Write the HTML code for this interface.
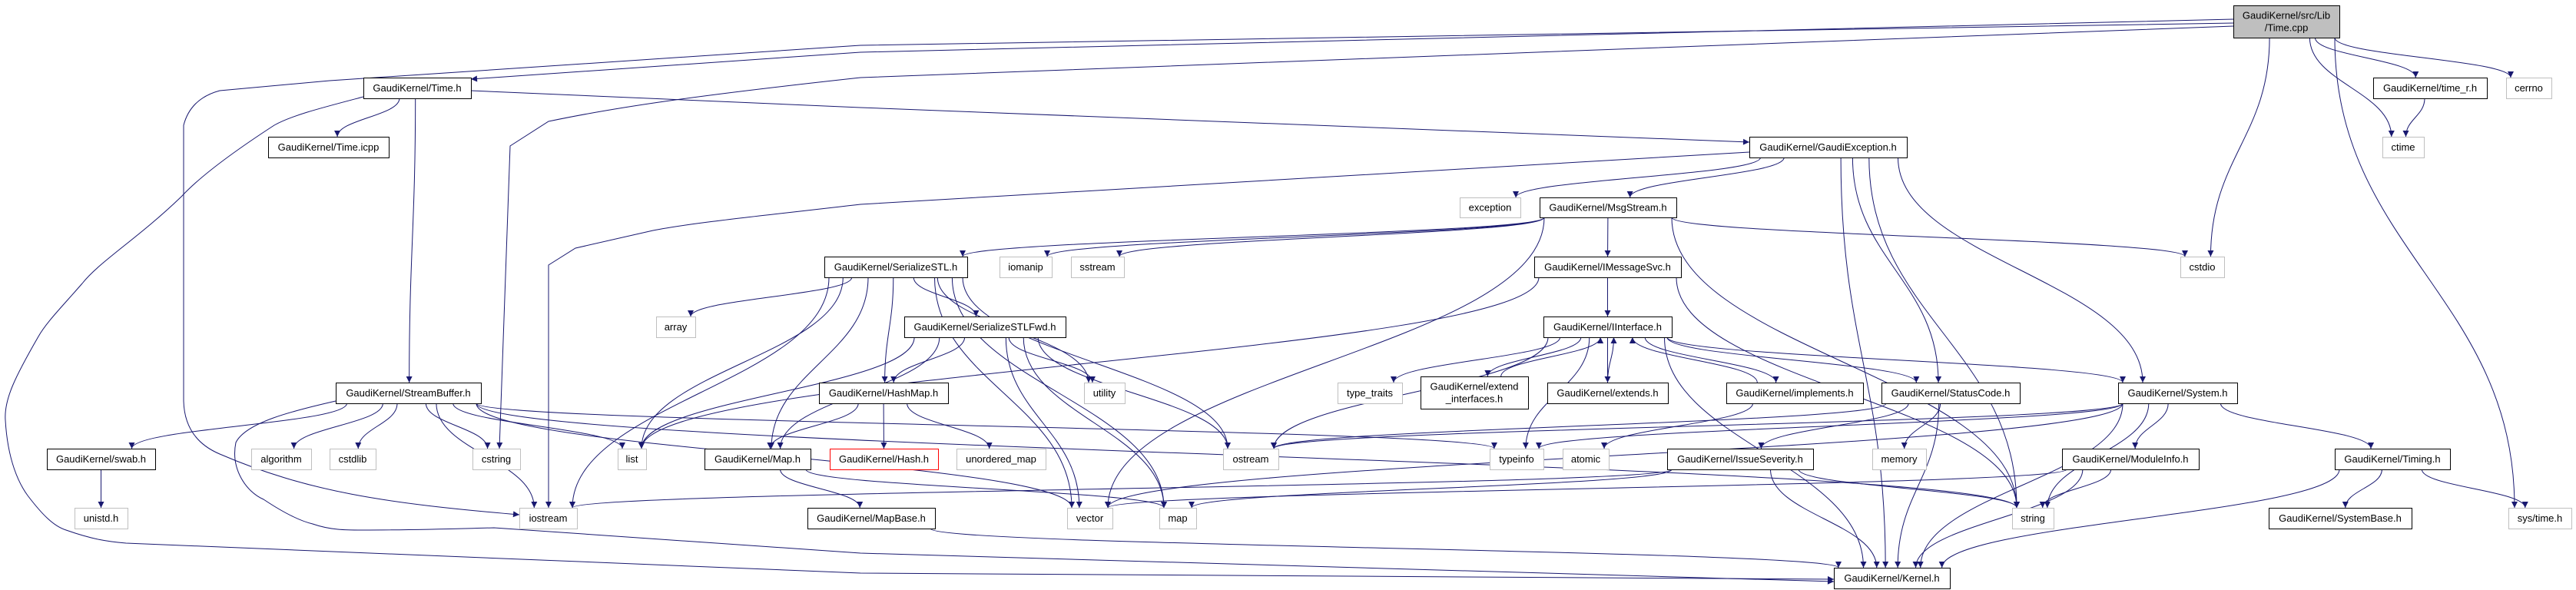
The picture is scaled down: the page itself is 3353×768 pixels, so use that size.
<!DOCTYPE html>
<html><head><meta charset="utf-8"><style>
html,body{margin:0;padding:0;background:#fff;}
svg{display:block}
text{font-family:"Liberation Sans",sans-serif;font-size:13px;fill:#000;}
</style></head><body>
<svg id="g" width="3353" height="768" viewBox="0 0 3353 768" xmlns="http://www.w3.org/2000/svg">
<defs><marker id="ah" viewBox="0 0 10 10" refX="10" refY="5" markerWidth="10" markerHeight="8" markerUnits="userSpaceOnUse" orient="auto"><path d="M0,0 L10,5 L0,10 z" fill="#191970"/></marker></defs>
<g id="edges" fill="none" stroke="#191970" stroke-width="1"></g>
<g id="nodes"></g>
</svg>
<script>
var N={
"cpp":[2907,7,3045,49,"GaudiKernel/src/Lib|/Time.cpp","c"],
"timeh":[473,101,613,128,"GaudiKernel/Time.h","b"],
"icpp":[349,178,506,205,"GaudiKernel/Time.icpp","b"],
"gexc":[2277,178,2482,205,"GaudiKernel/GaudiException.h","b"],
"timer":[3089,101,3237,128,"GaudiKernel/time_r.h","b"],
"cerrno":[3262,101,3321,128,"cerrno","g"],
"ctime":[3101,178,3155,205,"ctime","g"],
"exception":[1900,257,1979,283,"exception","g"],
"msg":[2004,257,2182,283,"GaudiKernel/MsgStream.h","b"],
"sstl":[1073,334,1259,361,"GaudiKernel/SerializeSTL.h","b"],
"iomanip":[1301,334,1369,361,"iomanip","g"],
"sstream":[1394,334,1463,361,"sstream","g"],
"imsg":[1997,334,2188,361,"GaudiKernel/IMessageSvc.h","b"],
"cstdio":[2838,334,2895,361,"cstdio","g"],
"array":[854,412,905,439,"array","g"],
"sfwd":[1177,412,1387,439,"GaudiKernel/SerializeSTLFwd.h","b"],
"iif":[2009,412,2176,439,"GaudiKernel/IInterface.h","b"],
"sbuf":[437,498,626,525,"GaudiKernel/StreamBuffer.h","b"],
"hashmap":[1066,498,1234,525,"GaudiKernel/HashMap.h","b"],
"utility":[1411,498,1464,525,"utility","g"],
"tt":[1741,498,1825,525,"type_traits","g"],
"ext":[1849,490,1989,532,"GaudiKernel/extend| _interfaces.h","b"],
"extends":[2014,498,2171,525,"GaudiKernel/extends.h","b"],
"impl":[2247,498,2425,525,"GaudiKernel/implements.h","b"],
"sc":[2449,498,2629,525,"GaudiKernel/StatusCode.h","b"],
"sys":[2757,498,2912,525,"GaudiKernel/System.h","b"],
"swab":[61,584,202,611,"GaudiKernel/swab.h","b"],
"algorithm":[327,584,405,611,"algorithm","g"],
"cstdlib":[429,584,489,611,"cstdlib","g"],
"cstring":[615,584,677,611,"cstring","g"],
"list":[804,584,841,611,"list","g"],
"maph":[917,584,1055,611,"GaudiKernel/Map.h","b"],
"hash":[1080,584,1221,611,"GaudiKernel/Hash.h","r"],
"umap":[1245,584,1361,611,"unordered_map","g"],
"ostream":[1592,584,1664,611,"ostream","g"],
"typeinfo":[1939,584,2009,611,"typeinfo","g"],
"atomic":[2034,584,2094,611,"atomic","g"],
"issue":[2170,584,2360,611,"GaudiKernel/IssueSeverity.h","b"],
"memory":[2437,584,2507,611,"memory","g"],
"modinfo":[2684,584,2862,611,"GaudiKernel/ModuleInfo.h","b"],
"timing":[3039,584,3189,611,"GaudiKernel/Timing.h","b"],
"unistd":[97,661,166,688,"unistd.h","g"],
"iostream":[676,661,751,688,"iostream","g"],
"mapbase":[1051,661,1217,688,"GaudiKernel/MapBase.h","b"],
"vector":[1389,661,1448,688,"vector","g"],
"map":[1509,661,1557,688,"map","g"],
"string":[2619,661,2673,688,"string","g"],
"sysbase":[2953,661,3139,688,"GaudiKernel/SystemBase.h","b"],
"systime":[3265,661,3347,688,"sys/time.h","g"],
"kernel":[2387,739,2538,766,"GaudiKernel/Kernel.h","b"]
};
var C={
"timeh>kernel":"M473,126 C420,140 380,150 357,163 C300,200 260,230 236,256 C180,310 130,340 107,369 C80,400 60,420 50,438 C20,490 5,520 7,547 C10,600 25,630 36,645 C55,670 70,685 86,690 C120,702 140,705 164,707 L1120,746 L2387,754",
"cpp>iostream":"M2907,30 L1120,59 C800,80 600,95 429,105 L286,118 C260,125 245,140 239,163 L239,522 C240,560 260,580 286,591 C400,640 500,655 676,670",
"cpp>cstring":"M2907,34 L1120,101 C900,125 800,140 714,158 L664,190 L650,584",
"gexc>iostream":"M2277,198 L1120,266 C1000,280 900,290 850,300 L749,323 L714,345 L714,661",
"sbuf>kernel":"M437,522 C380,535 320,550 307,576 C300,610 320,640 343,650 C370,668 390,678 407,682 C430,690 450,690 471,690 C540,690 600,688 643,687 L1120,720 L2387,757",
"cpp>timeh":"M2907,25 L1120,68 L613,103",
"timeh>gexc":"M613,118 L1120,140 L2277,185"
};
var E=[
["cpp","timeh"],["cpp","iostream"],["cpp","cstring"],["cpp","cstdio"],["cpp","timer"],["cpp","ctime"],["cpp","cerrno"],["cpp","systime"],
["timer","ctime"],
["timeh","icpp"],["timeh","sbuf"],["timeh","gexc"],["timeh","kernel"],
["sbuf","swab"],["sbuf","algorithm"],["sbuf","cstdlib"],["sbuf","cstring"],["sbuf","list"],["sbuf","iostream"],["sbuf","vector"],["sbuf","string"],["sbuf","typeinfo"],["sbuf","kernel"],
["swab","unistd"],
["gexc","exception"],["gexc","msg"],["gexc","sc"],["gexc","sys"],["gexc","string"],["gexc","kernel"],["gexc","iostream"],
["msg","sstl"],["msg","iomanip"],["msg","sstream"],["msg","imsg"],["msg","cstdio"],["msg","string"],["msg","vector"],
["sstl","array"],["sstl","list"],["sstl","maph"],["sstl","hashmap"],["sstl","sfwd"],["sstl","utility"],["sstl","ostream"],["sstl","map"],["sstl","vector"],["sstl","iostream"],
["sfwd","hashmap"],["sfwd","maph"],["sfwd","utility"],["sfwd","list"],["sfwd","vector"],["sfwd","map"],["sfwd","ostream"],
["hashmap","hash"],["hashmap","umap"],["hashmap","maph"],
["maph","mapbase"],["maph","map"],["mapbase","kernel"],
["imsg","iif"],["imsg","string"],["imsg","list"],
["iif","tt"],["iif","ext"],["iif","extends"],["iif","impl"],["iif","sc"],["iif","sys"],["iif","ostream"],["iif","typeinfo"],["iif","kernel"],
["ext","iif"],["extends","iif"],["impl","iif"],["impl","atomic"],
["sc","issue"],["sc","memory"],["sc","kernel"],["sc","ostream"],
["issue","string"],["issue","kernel"],["issue","map"],["issue","iostream"],
["sys","modinfo"],["sys","timing"],["sys","string"],["sys","kernel"],["sys","typeinfo"],["sys","vector"],["sys","ostream"],
["modinfo","string"],["modinfo","kernel"],["modinfo","vector"],
["timing","sysbase"],["timing","systime"],["timing","kernel"]
];
var ns="http://www.w3.org/2000/svg";
var eg=document.getElementById("edges"),ng=document.getElementById("nodes");
function cl(v,a,b){return Math.max(a,Math.min(b,v));}
E.forEach(function(e){
 var A=N[e[0]],B=N[e[1]];
 var acx=(A[0]+A[2])/2,bcx=(B[0]+B[2])/2,acy=(A[1]+A[3])/2,bcy=(B[1]+B[3])/2;
 var d=C[e[0]+">"+e[1]];
 if(!d){
 if(B[1]>A[3]){
  var sx=cl(acx+(bcx-acx)*0.2,A[0]+6,A[2]-6),sy=A[3];
  var ex=cl(bcx+(acx-bcx)*0.1,B[0]+6,B[2]-6),ey=B[1];
  var dy=ey-sy;
  d="M"+sx+","+sy+" C"+sx+","+(sy+dy*0.45)+" "+ex+","+(ey-dy*0.45)+" "+ex+","+ey;
 } else if(B[3]<A[1]){
  var sx=cl(acx+(bcx-acx)*0.2,A[0]+6,A[2]-6),sy=A[1];
  var ex=cl(bcx+(acx-bcx)*0.1+8,B[0]+6,B[2]-6),ey=B[3];
  var dy=ey-sy;
  d="M"+sx+","+sy+" C"+sx+","+(sy+dy*0.45)+" "+ex+","+(ey-dy*0.45)+" "+ex+","+ey;
 } else {
  var sx=bcx>acx?A[2]:A[0],ex=bcx>acx?B[0]:B[2];
  d="M"+sx+","+acy+" L"+ex+","+bcy;
 }}
 var p=document.createElementNS(ns,"path");p.setAttribute("d",d);p.setAttribute("marker-end","url(#ah)");eg.appendChild(p);
});
for(var k in N){
 var n=N[k];
 var r=document.createElementNS(ns,"rect");
 r.setAttribute("x",n[0]+0.5);r.setAttribute("y",n[1]+0.5);r.setAttribute("width",n[2]-n[0]);r.setAttribute("height",n[3]-n[1]);
 var s=n[5]=="g"?"#bfbfbf":(n[5]=="r"?"#ff0000":"#000");
 r.setAttribute("fill",n[5]=="c"?"#bfbfbf":"#fff");r.setAttribute("stroke",n[5]=="c"?"#000":s);
 ng.appendChild(r);
 var lines=n[4].split("|"),cx=(n[0]+n[2])/2,cy=(n[1]+n[3])/2;
 lines.forEach(function(l,i){
  var t=document.createElementNS(ns,"text");
  t.setAttribute("x",cx);t.setAttribute("y",cy+4.5+(i-(lines.length-1)/2)*16);
  t.setAttribute("text-anchor","middle");t.setAttribute("xml:space","preserve");t.textContent=l;ng.appendChild(t);
 });
}
</script>
</body></html>
